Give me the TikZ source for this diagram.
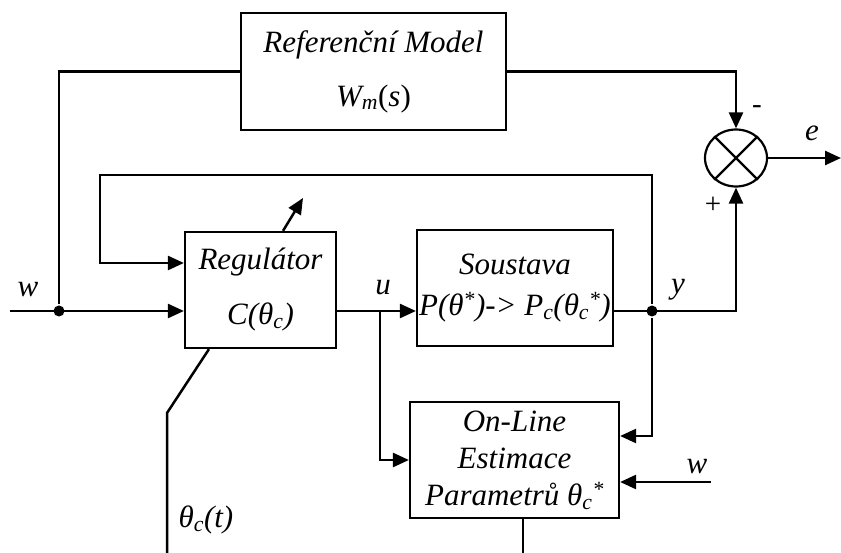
\documentclass[tikz,border=0pt]{standalone}
\usepackage{fontspec}
\setmainfont{Liberation Serif}
\usetikzlibrary{arrows.meta, shapes.geometric, positioning}

\begin{document}
\begin{tikzpicture}[
    x=1pt, y=-1pt,
    line width=2.5pt,
    font=\itshape\fontsize{31}{37}\selectfont,
    >={Triangle[length=16pt, width=14pt]},
    block/.style={draw, line width=2.2pt, align=center, inner sep=2pt},
    sumnode/.style={draw, ellipse, line width=2.2pt, minimum width=62pt, minimum height=57pt, inner sep=0pt},
    sig/.style={inner sep=1pt},
    dot/.style={circle, fill, inner sep=0pt, minimum size=11pt},
  ]

  \useasboundingbox (0,0) rectangle (841,553);

  % ---- blocks -----------------------------------------------------------
  \node[block, minimum width=265pt, minimum height=117pt] (model) at (373.5,71.5)
       {Referenční Model\\[17pt]W\textsubscript{m}\textup{(}s\textup{)}};
  \node[block, minimum width=151pt, minimum height=116pt] (reg) at (260.5,290)
       {Regulátor\\[18pt]C(θ\textsubscript{c})};
  \node[block, minimum width=196pt, minimum height=116pt] (plant) at (515,288)
       {Soustava\\[4pt]P(θ\textsuperscript{*})-> P\textsubscript{c}(θ\textsubscript{c}\textsuperscript{*})};
  \node[block, minimum width=209pt, minimum height=116pt] (est) at (514.5,460)
       {On-Line\\Estimace\\Parametrů θ\textsubscript{c}\textsuperscript{*}};
  \node[sumnode] (sum) at (736,158) {};
  \draw[line width=2.2pt] (sum.45) -- (sum.225) (sum.135) -- (sum.315);

  % ---- branch points and free ends ----------------------------------------
  \node[dot] (wsplit) at (59,311) {};
  \node[dot] (ysplit) at (652,311) {};
  \coordinate (win)    at (10,311);
  \coordinate (usplit) at (380,311);
  \coordinate (fbleft) at (100,175);
  \coordinate (adapt)  at (303,198);
  \coordinate (eout)   at (841,158);
  \coordinate (wright) at (711,482);
  \coordinate (estout) at (523,553);
  \coordinate (thbend) at (167,413);
  \coordinate (thend)  at (167,553);

  % ---- signals ----------------------------------------------------------
  \draw[->] (win) -- (reg.west |- wsplit);
  \draw (model.west) -| (wsplit);
  \draw[->] (model.east) -| (sum.north);
  \draw[->] (sum.east) -- (eout);
  \draw[->] (reg.east |- usplit) -- (plant.west |- usplit);
  \draw[->] (usplit) |- (est.west);
  \draw[->] (plant.east |- ysplit) -| (sum.south);
  \draw[->] (ysplit) |- (fbleft) |- ([yshift=27pt]reg.west);
  \draw[->] (ysplit) |- ([yshift=24pt]est.east);
  \draw[->] (wright) -- (est.east |- wright);
  \draw (est.south -| estout) -- (estout);
  \draw[->] ([xshift=22.5pt]reg.north) -- (adapt);
  \draw ([xshift=-51.5pt]reg.south) -- (thbend) -- (thend);

  % ---- labels -----------------------------------------------------------
  \node[sig] (lw)   at (28,290)  {w};
  \node[sig] (lu)   at (383,288) {u};
  \node[sig] (ly)   at (678,290) {y};
  \node[sig] (le)   at (812,133) {e};
  \node[sig, font=\upshape\fontsize{29}{35}\selectfont] (lminus) at (757,110) {-};
  \node[sig, font=\upshape\fontsize{29}{35}\selectfont] (lplus)  at (713,205) {+};
  \node[sig] (lw2)  at (697,467) {w};
  \node[sig] (lth)  at (206,520) {θ\textsubscript{c}(t)};

\end{tikzpicture}
\end{document}
